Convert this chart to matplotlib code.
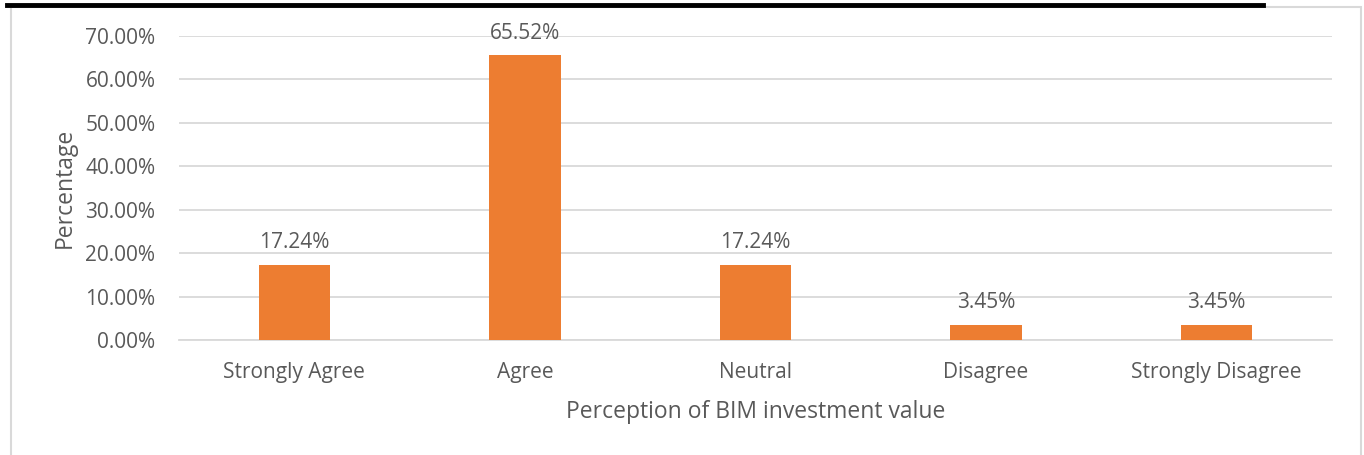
import matplotlib.pyplot as plt
from matplotlib.lines import Line2D
from matplotlib.patches import Rectangle
from matplotlib.ticker import FuncFormatter

categories = ["Strongly Agree", "Agree", "Neutral", "Disagree", "Strongly Disagree"]
values = [17.24, 65.52, 17.24, 3.45, 3.45]
y_ticks = [0, 10, 20, 30, 40, 50, 60, 70]

W, H = 1364, 455
text_col = "#595959"
bar_col = "#ED7D31"
grid_col = "#D9D9D9"

plt.rcParams["font.family"] = ["Open Sans", "DejaVu Sans"]

fig = plt.figure(figsize=(W / 100, H / 100), dpi=100)

# chart frame + black rule above it
fig.add_artist(Rectangle((11 / W, -0.1), (1361 - 11) / W, 1.1 - 7 / H,
                         transform=fig.transFigure, fill=False,
                         edgecolor=grid_col, linewidth=1.5))
fig.add_artist(Line2D([7 / W, 1263 / W], [1 - 4.5 / H, 1 - 4.5 / H],
                      transform=fig.transFigure, color="black", linewidth=3.5))

ax = fig.add_axes([179 / W, 1 - 340 / H, (1332 - 179) / W, (340 - 36) / H])

x = range(len(categories))
ax.bar(x, values, width=0.31, color=bar_col, zorder=3)
for xi, v in zip(x, values):
    ax.annotate(f"{v:.2f}%", (xi, v), xytext=(0, 16), textcoords="offset points",
                ha="center", va="center", fontsize=15, color=text_col)

ax.set_xlim(-0.5, len(categories) - 0.5)
ax.set_ylim(0, 70)
ax.set_yticks(y_ticks)
ax.yaxis.set_major_formatter(FuncFormatter(lambda v, p: f"{v:.2f}%"))
ax.set_xticks(list(x))
ax.set_xticklabels(categories)
ax.tick_params(length=0, labelsize=15, colors=text_col)
ax.tick_params(axis="y", pad=17)
ax.tick_params(axis="x", pad=16)
ax.grid(axis="y", color=grid_col, linewidth=1.3, zorder=0)
for s in ["top", "right", "left"]:
    ax.spines[s].set_visible(False)
ax.spines["bottom"].set_color(grid_col)
ax.spines["bottom"].set_linewidth(1.3)

ax.set_ylabel("Percentage", fontsize=16.5, color=text_col, labelpad=6)
ax.set_xlabel("Perception of BIM investment value", fontsize=16.5,
              color=text_col, labelpad=12)

fig.savefig("out.png", dpi=100)
